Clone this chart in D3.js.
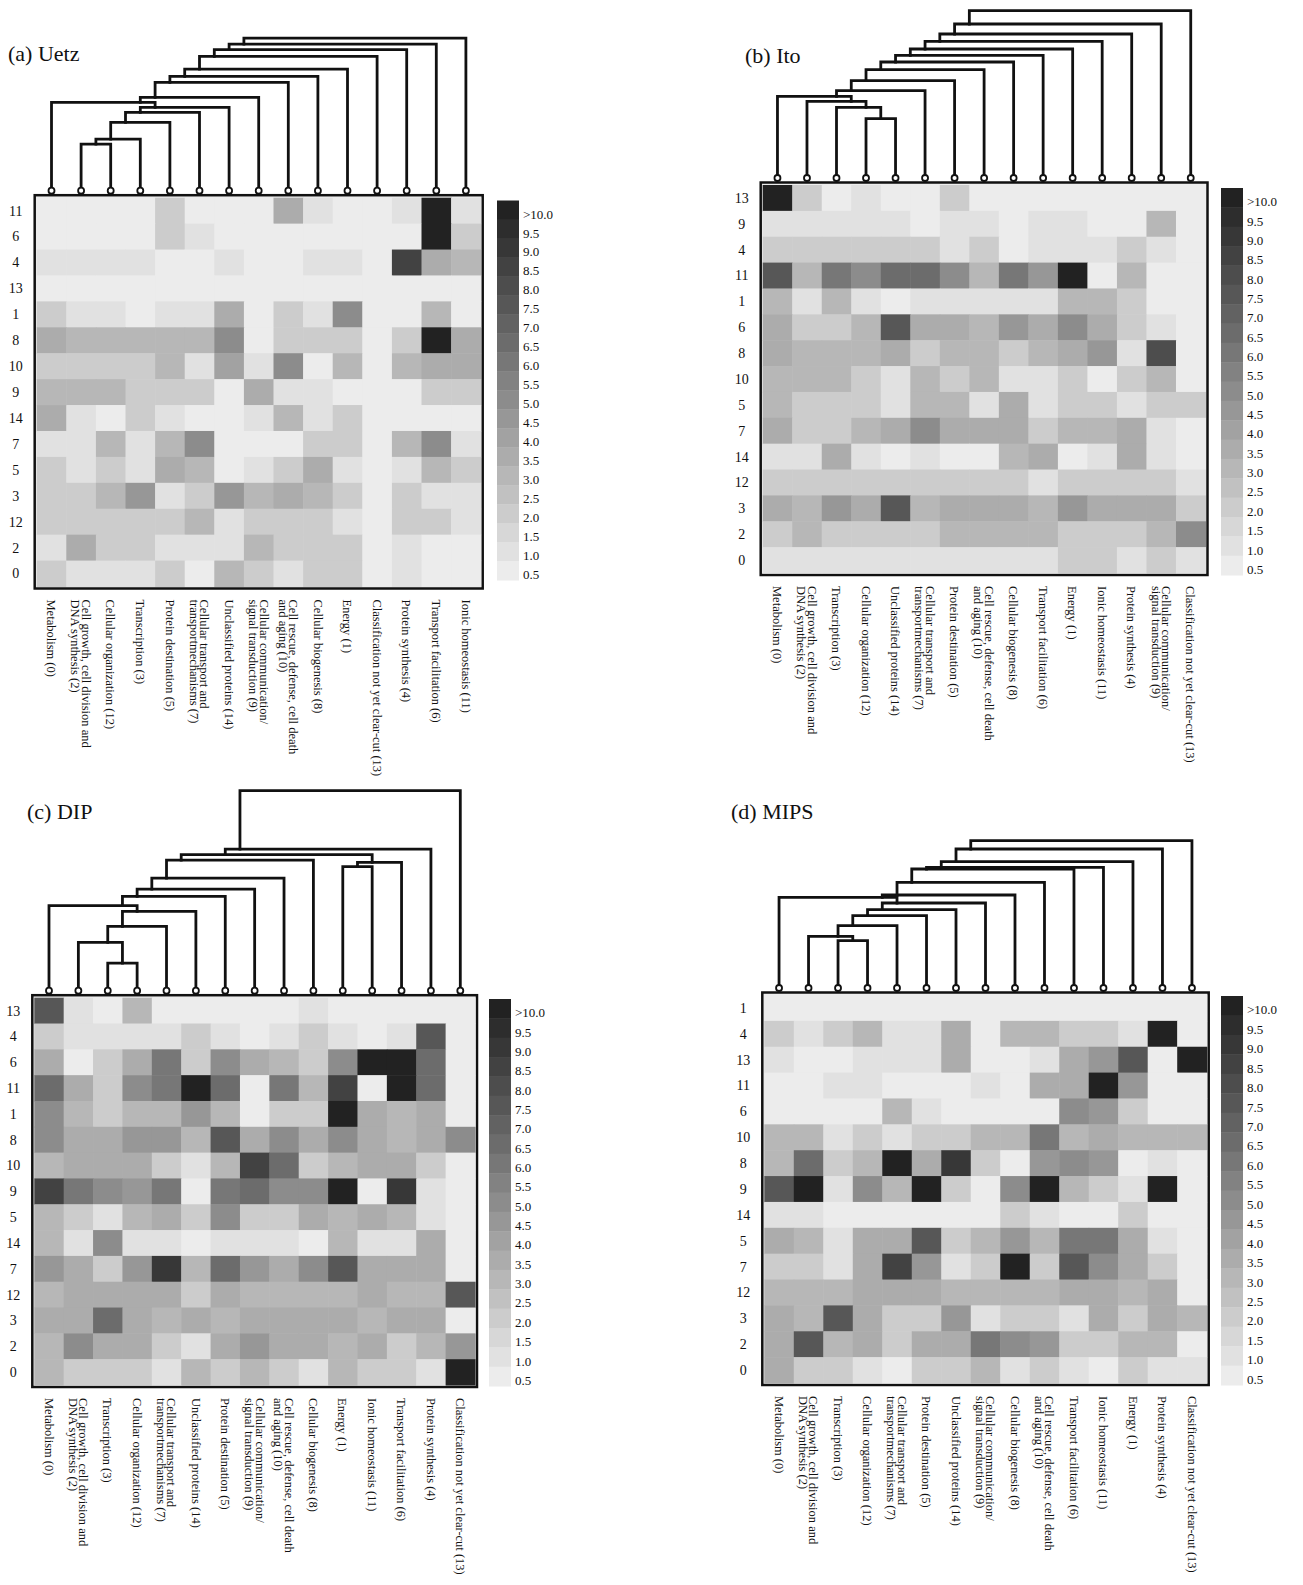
<!DOCTYPE html>
<html>
<head>
<meta charset="utf-8">
<script src="https://cdn.jsdelivr.net/npm/d3@7"></script>
<style>
body { margin: 0; background: #fff; }
text { font-family: "Liberation Serif", "Times New Roman", serif; fill: #111; }
</style>
</head>
<body>
<svg id="chart" width="1303" height="1585" font-family="Liberation Serif, Times New Roman, serif"></svg>
<script>
// ---- category names (id -> label lines) ----
var categoryNames = [
    ["Metabolism (0)"],
    ["Energy (1)"],
    ["Cell growth, cell division and", "DNA synthesis (2)"],
    ["Transcription (3)"],
    ["Protein synthesis (4)"],
    ["Protein destination (5)"],
    ["Transport facilitation (6)"],
    ["Cellular transport and", "transportmechanisms (7)"],
    ["Cellular biogenesis (8)"],
    ["Cellular communication/", "signal transduction (9)"],
    ["Cell rescue, defense, cell death", "and aging (10)"],
    ["Ionic homeostasis (11)"],
    ["Cellular organization (12)"],
    ["Classification not yet clear-cut (13)"],
    ["Unclassified proteins (14)"]
];

// colour legend
var legendTicks = [">10.0","9.5","9.0","8.5","8.0","7.5","7.0","6.5","6.0","5.5","5.0","4.5","4.0","3.5","3.0","2.5","2.0","1.5","1.0","0.5"];
var legendValues = [10.5,9.5,9,8.5,8,7.5,7,6.5,6,5.5,5,4.5,4,3.5,3,2.5,2,1.5,1,0.5];

// ---- (a) Uetz ----
var colsA = [0,2,12,3,5,7,14,9,10,8,1,13,4,6,11];
var rowsA = [11,6,4,13,1,8,10,9,14,7,5,3,12,2,0];
var valuesA = [
    [0.5,0.5,0.5,0.5,2,0.5,0.5,0.5,3.5,1,0.5,0.5,1,10.5,1],
    [0.5,0.5,0.5,0.5,2,1,0.5,0.5,0.5,0.5,0.5,0.5,0.5,10.5,2],
    [1,1,1,1,0.5,0.5,1,0.5,0.5,1,1,0.5,8.5,3.5,3],
    [0.5,0.5,0.5,0.5,0.5,0.5,0.5,0.5,0.5,0.5,0.5,0.5,0.5,0.5,0.5],
    [2,1,1,0.5,1,1,3.5,0.5,2,1,5,0.5,0.5,3,0.5],
    [3.5,3,3,3,3,3,5,0.5,2,2,2,0.5,2,10.5,3.5],
    [2,2,2,2,3,1,4,1,5,0.5,3,0.5,3,3.5,3.5],
    [3,3,3,2,2,2,0.5,3.5,1,1,0.5,0.5,0.5,2,2],
    [3.5,1,0.5,2,1,0.5,0.5,1,3,1,2,0.5,0.5,0.5,0.5],
    [1,1,3,1,3,5,0.5,0.5,0.5,2,2,0.5,3,5,1],
    [2,1,2,1,3.5,3,0.5,1,2,3.5,1,0.5,1,3,2],
    [2,2,3,4.5,1,2,4.5,3,3.5,3,2,0.5,2,1,1],
    [2,2,2,2,2,3,1,2,2,2,1,0.5,2,2,1],
    [1,3.5,2,2,1,1,1,3,2,2,2,0.5,1,0.5,0.5],
    [2,1,1,1,2,0.5,3,2,1,2,2,0.5,1,0.5,0.5]
];
// merges: [left node, right node, distance]; node >= 15 is an earlier merge
var mergesA = [[1,2,0.233],[15,3,0.258],[16,4,0.342],[17,5,0.392],[18,6,0.417],[0,19,0.442],[20,7,0.467],
    [21,8,0.542],[22,9,0.572],[23,10,0.608],[24,11,0.672],[25,12,0.705],[26,13,0.733],[27,14,0.763]];

// ---- (b) Ito ----
var colsB = [0,2,3,12,14,7,5,10,8,6,1,11,4,9,13];
var rowsB = [13,9,4,11,1,6,8,10,5,7,14,12,3,2,0];
var valuesB = [
    [10.5,2,0.5,1,0.5,0.5,2,0.5,0.5,0.5,0.5,0.5,0.5,0.5,0.5],
    [1,1,1,1,1,0.5,1,1,0.5,1,1,0.5,0.5,3,0.5],
    [2,2,2,2,2,2,1,2,0.5,1,1,1,2,1,0.5],
    [7.5,3,6,5,6.5,6.5,5,3,6,4.5,10.5,0.5,3,0.5,0.5],
    [3,1,3,1,0.5,1,1,1,1,1,3,3,2,0.5,0.5],
    [3.5,2,2,3,7.5,3.5,3.5,3,4.5,3.5,5,3.5,2,1,0.5],
    [3.5,3,3,3,3.5,2,3,3,2,3,3.5,4.5,1,8,0.5],
    [3,3,3,2,1,3,2,3,1,1,2,0.5,2,3,0.5],
    [3,2,2,2,1,3,3,1,3.5,1,2,2,1,2,2],
    [3.5,2,2,3,3.5,5,3.5,3.5,3.5,2,3,3,3.5,1,0.5],
    [1,1,3.5,1,0.5,1,0.5,0.5,3,3.5,0.5,1,3.5,1,0.5],
    [2,2,2,2,2,2,2,2,2,1,2,2,2,2,1],
    [3.5,3,4.5,3.5,7.5,3,3.5,3.5,3.5,3,4.5,3.5,3.5,3.5,2],
    [2,3,2,2,2,2,3,3,3,3,2,2,2,3,5],
    [1,1,1,1,1,1,1,1,1,1,2,2,1,2,1]
];
var mergesB = [[3,4,0.297],[2,15,0.353],[1,16,0.383],[0,17,0.408],[18,5,0.437],[19,6,0.487],[20,7,0.542],
    [21,8,0.58],[22,9,0.613],[23,10,0.645],[24,11,0.683],[25,12,0.72],[26,13,0.77],[27,14,0.837]];

// ---- (c) DIP ----
var colsC = [0,2,3,12,7,14,5,9,10,8,1,11,6,4,13];
var rowsC = [13,4,6,11,1,8,10,9,5,14,7,12,3,2,0];
var valuesC = [
    [7.5,1,0.5,3,0.5,0.5,0.5,0.5,0.5,1,0.5,0.5,0.5,0.5,0.5],
    [2,1,1,1,1,2,1,0.5,1,2,1,0.5,1,7.5,0.5],
    [3.5,0.5,2,3.5,6,2,5,3.5,3,2,5,10.5,10.5,6.5,0.5],
    [6.5,3.5,2,5,6,10.5,6.5,0.5,6,3,8.5,0.5,10.5,6.5,0.5],
    [5,3,2,3,3,4.5,3,0.5,2,2,10,3.5,3,3.5,0.5],
    [5,3.5,3.5,4.5,4.5,3,7.5,3.5,5,3.5,5,3.5,3,3.5,5],
    [3,3.5,3.5,3.5,2,1,3,8.5,6.5,2,3,3.5,3.5,2,0.5],
    [8.5,6,5,4.5,6,0.5,6,6.5,5,5,10.5,0.5,9,1,0.5],
    [3,2,1,3,3.5,2,5,2,2,3.5,3,3.5,3,1,0.5],
    [3,1,5,1,1,0.5,1,1,1,0.5,3,1,1,3.5,0.5],
    [4.5,3.5,2,4.5,9,3,6.5,4.5,3.5,5,7.5,3.5,3.5,3.5,0.5],
    [3,3.5,3.5,3.5,3.5,2,3.5,3,3,3,3,3.5,3,3,7.5],
    [3.5,3.5,6.5,3.5,3,3.5,3,3.5,3.5,3.5,3.5,3,3.5,3.5,0.5],
    [3,5,3.5,3.5,2,1,3.5,4.5,3.5,3.5,3,3.5,2,3,4.5],
    [3,2,2,2,1,3,2,3,2,1,3,2,2,1,10.5]
];
var mergesC = [[2,3,0.138],[1,15,0.242],[16,4,0.322],[17,5,0.397],[0,18,0.425],[19,6,0.472],[20,7,0.508],
    [21,8,0.563],[22,9,0.653],[10,11,0.62],[24,12,0.642],[23,25,0.68],[26,13,0.708],[27,14,1.0]];

// ---- (d) MIPS ----
var colsD = [0,2,3,12,7,5,14,9,8,10,6,11,1,4,13];
var rowsD = [1,4,13,11,6,10,8,9,14,5,7,12,3,2,0];
var valuesD = [
    [0.5,0.5,0.5,0.5,0.5,0.5,0.5,0.5,0.5,0.5,0.5,0.5,0.5,0.5,0.5],
    [2,1,2,3,1,1,3.5,0.5,3,3,2,2,1,10.5,0.5],
    [1,0.5,0.5,1,1,1,3.5,0.5,0.5,1,3.5,4.5,7.5,0.5,10.5],
    [0.5,0.5,1,1,0.5,0.5,0.5,1,0.5,3.5,3.5,10.5,4.5,0.5,0.5],
    [0.5,0.5,0.5,0.5,3,1,0.5,0.5,0.5,0.5,5,4.5,2,0.5,0.5],
    [3,3,1,2,1,2,2,3,3,6,3,3.5,3,3,3],
    [3,6.5,2,3,10.5,3.5,9,2,0.5,4.5,5,4.5,0.5,1,0.5],
    [7.5,10.5,1,5,3,10.5,2,0.5,5,10.5,3,2,1,10.5,0.5],
    [1,1,0.5,0.5,0.5,0.5,0.5,0.5,2,1,0.5,0.5,2,0.5,0.5],
    [3.5,3,1,3.5,3.5,7.5,2,3,4.5,3,6,6,3.5,1,0.5],
    [2,2,1,3.5,8.5,4.5,1,2,10.5,2,7.5,5,3.5,2,0.5],
    [3,3,3,3.5,3.5,3.5,3,3,3,3,3.5,3.5,3,3.5,0.5],
    [3.5,3,7.5,3.5,2,2,4.5,1,2,2,1,3.5,2,3.5,3],
    [3.5,7.5,3,3.5,2,3.5,3.5,6,5,4.5,2,2,3,3,0.5],
    [3.5,2,2,1,0.5,2,2,3,1,2,1,0.5,2,1,1]
];
var mergesD = [[2,3,0.237],[1,15,0.258],[16,4,0.312],[17,5,0.362],[18,6,0.392],[19,7,0.425],[0,20,0.453],
    [21,8,0.465],[22,9,0.528],[23,10,0.595],[24,11,0.603],[25,12,0.632],[26,13,0.695],[27,14,0.737]];

// panel placement
var panels = [
    {title:"(a) Uetz", cols:colsA, rows:rowsA, values:valuesA, merges:mergesA,
     x0:36.7, x1:480.7, y0:197.7, y1:586.5, barX:497, barY0:200.5, barY1:580, titleX:8, titleY:61},
    {title:"(b) Ito", cols:colsB, rows:rowsB, values:valuesB, merges:mergesB,
     x0:762.7, x1:1205.5, y0:185, y1:573, barX:1221, barY0:188, barY1:575, titleX:745, titleY:63},
    {title:"(c) DIP", cols:colsC, rows:rowsC, values:valuesC, merges:mergesC,
     x0:34.3, x1:475, y0:997.7, y1:1385, barX:489, barY0:999, barY1:1386, titleX:27, titleY:819},
    {title:"(d) MIPS", cols:colsD, rows:rowsD, values:valuesD, merges:mergesD,
     x0:764.3, x1:1206.7, y0:995, y1:1383, barX:1221, barY0:996, barY1:1385, titleX:731, titleY:819}
];

var FONT = "Liberation Serif, Times New Roman, serif";
var svg = d3.select("#chart");
svg.append("rect").attr("width", 1303).attr("height", 1585).attr("fill", "#fff");

// grey level: 20 steps of 0.5, light to dark
var greyScale = d3.scaleLinear().domain([0, 19]).range([236, 34]);
function colorOf(v) {
    var k = Math.max(0, Math.min(19, Math.round((v - 0.5) / 0.5)));
    var g = Math.round(greyScale(k));
    return d3.rgb(g, g, g).toString();
}

function drawPanel(p) {
    var g = svg.append("g").attr("font-family", FONT);
    var xs = d3.scaleBand().domain(d3.range(15)).range([p.x0, p.x1]);
    var ys = d3.scaleBand().domain(d3.range(15)).range([p.y0, p.y1]);
    var cw = xs.bandwidth(), ch = ys.bandwidth();

    // frame
    g.append("rect")
        .attr("x", p.x0 - 2).attr("y", p.y0 - 2.5)
        .attr("width", p.x1 - p.x0 + 4).attr("height", p.y1 - p.y0 + 4.5)
        .attr("fill", "#ededed").attr("stroke", "#111").attr("stroke-width", 2.5);

    // cells
    var cells = [];
    p.values.forEach(function(row, i) {
        row.forEach(function(v, j) { cells.push({r: i, c: j, v: v}); });
    });
    g.selectAll("rect.cell").data(cells).enter().append("rect")
        .attr("class", "cell")
        .attr("x", function(d) { return xs(d.c); })
        .attr("y", function(d) { return ys(d.r); })
        .attr("width", cw + 0.5).attr("height", ch + 0.5)
        .attr("fill", function(d) { return colorOf(d.v); });

    // row labels
    g.selectAll("text.row").data(p.rows).enter().append("text")
        .attr("class", "row")
        .attr("x", p.x0 - 21)
        .attr("y", function(d, i) { return ys(i) + ch / 2; })
        .attr("dy", "0.35em")
        .attr("text-anchor", "middle")
        .attr("font-family", FONT)
        .style("font-size", "14px")
        .text(function(d) { return d; });

    // column labels, rotated
    p.cols.forEach(function(id, j) {
        var lines = categoryNames[id];
        var t = g.append("text")
            .attr("transform", "translate(" + (xs(j) + cw / 2) + "," + (p.y1 + 13) + ") rotate(90)")
            .attr("font-family", FONT)
            .style("font-size", "12.5px");
        lines.forEach(function(line, k) {
            t.append("tspan")
                .attr("x", 0)
                .attr("y", (k - (lines.length - 1) / 2) * 10.5)
                .attr("dy", "0.35em")
                .text(line);
        });
    });

    // dendrogram
    var base = p.y0 - 7;
    var hs = d3.scaleLinear().domain([0, 1]).range([base, base - 200]);
    var pos = [], top = [], leaves = [];
    for (var i = 0; i < 15; i++) {
        pos[i] = xs(i) + cw / 2;
        top[i] = base - 3;
        leaves[i] = [i];
    }
    p.merges.forEach(function(m, k) {
        var id = 15 + k;
        leaves[id] = leaves[m[0]].concat(leaves[m[1]]);
        pos[id] = d3.mean(leaves[id], function(l) { return pos[l]; });
        top[id] = hs(m[2]);
        g.append("path")
            .attr("d", "M" + pos[m[0]] + "," + top[m[0]] + "V" + hs(m[2]) + "H" + pos[m[1]] + "V" + top[m[1]])
            .attr("fill", "none").attr("stroke", "#111").attr("stroke-width", 2.8)
            .attr("stroke-linecap", "square");
    });
    g.selectAll("circle.leaf").data(d3.range(15)).enter().append("circle")
        .attr("class", "leaf")
        .attr("cx", function(d) { return pos[d]; })
        .attr("cy", base)
        .attr("r", 3)
        .attr("fill", "#fff").attr("stroke", "#111").attr("stroke-width", 1.8);

    // colour bar
    var bs = d3.scaleBand().domain(legendTicks).range([p.barY0, p.barY1]);
    g.selectAll("rect.bar").data(legendTicks).enter().append("rect")
        .attr("class", "bar")
        .attr("x", p.barX).attr("width", 22)
        .attr("y", function(d) { return bs(d); })
        .attr("height", bs.bandwidth() + 0.5)
        .attr("fill", function(d, i) { return colorOf(legendValues[i]); });
    g.selectAll("text.tick").data(legendTicks).enter().append("text")
        .attr("class", "tick")
        .attr("x", p.barX + 26)
        .attr("y", function(d) { return bs(d) + bs.bandwidth() / 2 + 4; })
        .attr("dy", "0.35em")
        .attr("font-family", FONT)
        .style("font-size", "13px")
        .text(function(d) { return d; });

    // title
    g.append("text")
        .attr("x", p.titleX).attr("y", p.titleY)
        .attr("font-family", FONT)
        .style("font-size", "22px")
        .text(p.title);
}

panels.forEach(drawPanel);
</script>
</body>
</html>
